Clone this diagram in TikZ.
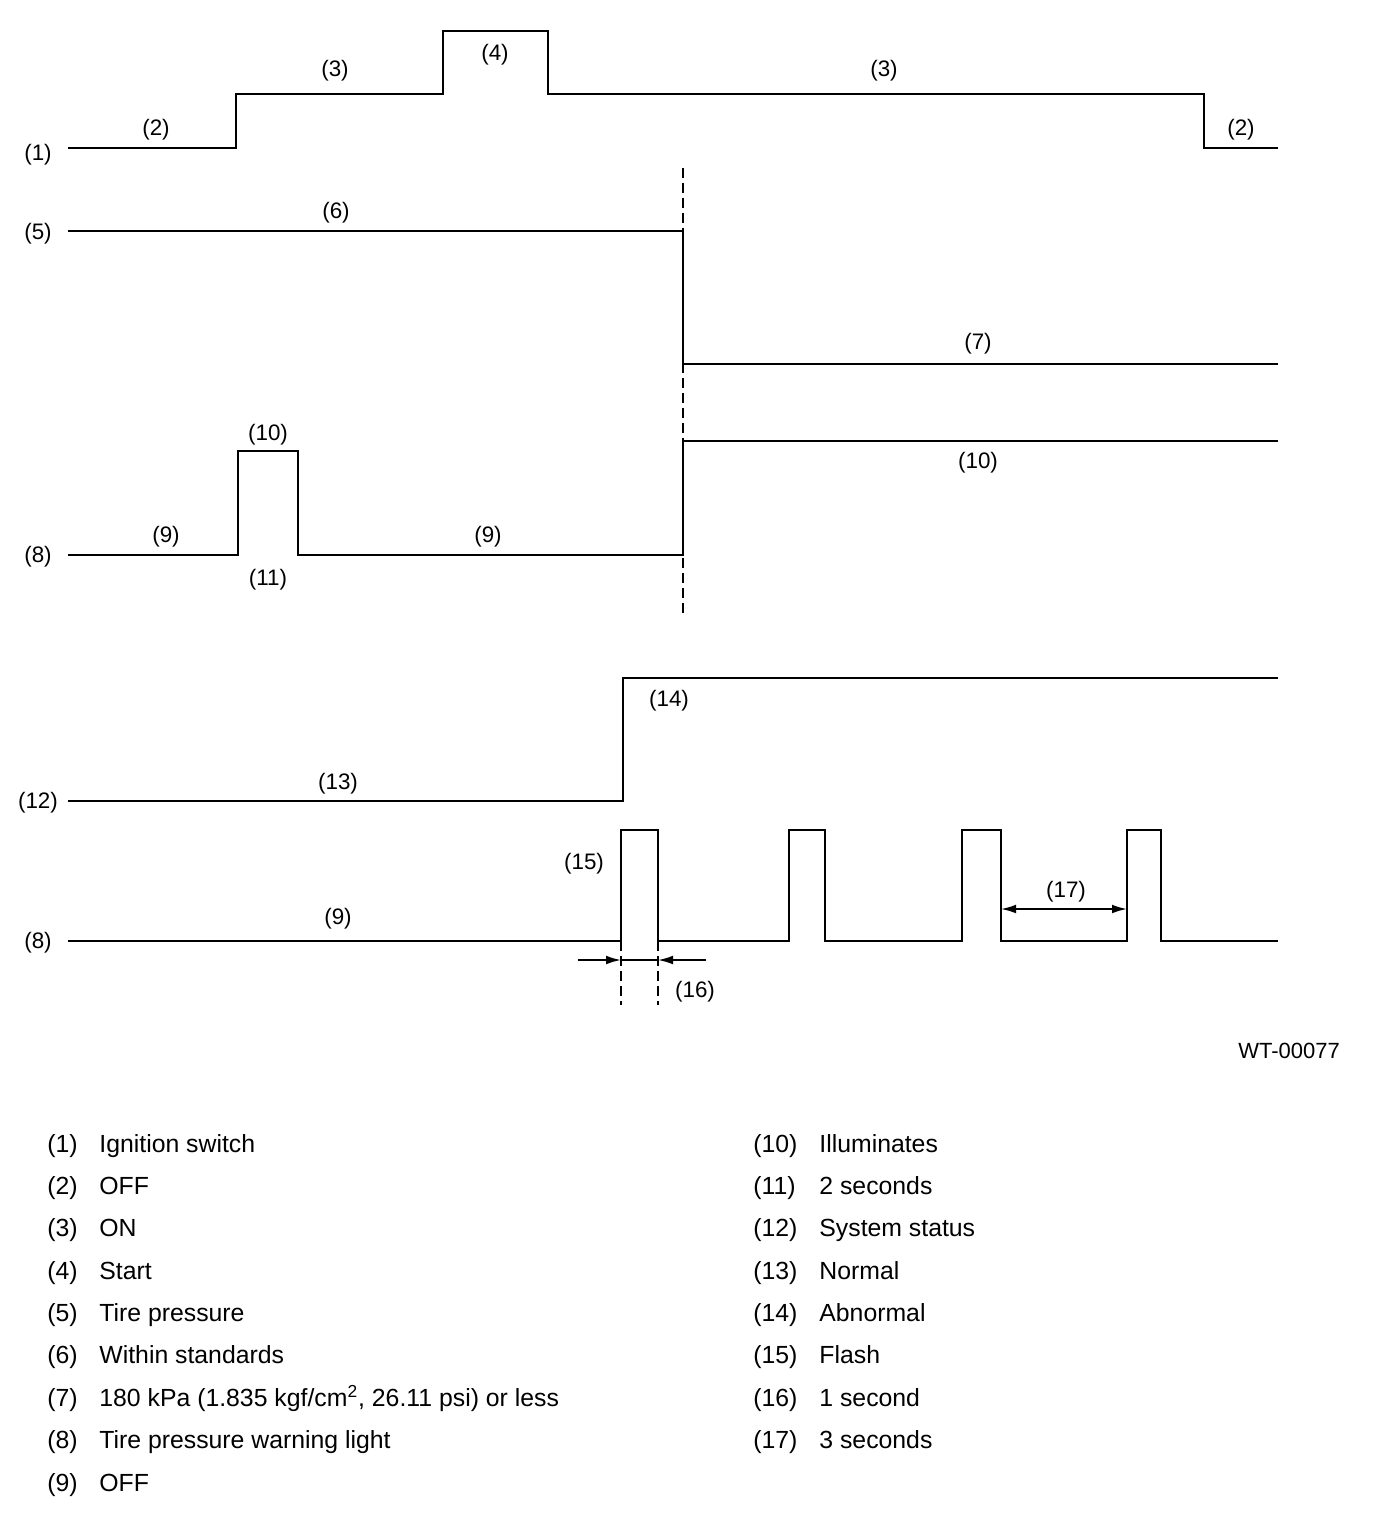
\documentclass[tikz,border=0pt]{standalone}
\usepackage{fontspec}
\setmainfont{Liberation Sans}
\usetikzlibrary{arrows.meta}

\begin{document}
\begin{tikzpicture}[
  x=0.5pt, y=-0.5pt,
  line cap=butt,
  line join=miter,
  signal/.style={line width=1.3pt},
  thinsignal/.style={line width=0.7pt},
  cutline/.style={line width=1.1pt, dash pattern=on 5pt off 2.5pt},
  dimline/.style={line width=0.9pt},
  dimarrow/.style={-{Latex[length=7.5pt,width=4.4pt]}},
  lbl/.style={inner sep=0pt, yshift=-1.5pt, font=\fontsize{11.2}{13}\selectfont},
  legend/.style={anchor=base west, inner sep=0pt, font=\fontsize{12.4}{15}\selectfont}
]
  \useasboundingbox (0,0) rectangle (1376,1514);

  % Зажигание
  \coordinate (ig0) at (68,148);
  \coordinate (ig1) at (236,148);
  \coordinate (ig2) at (236,94);
  \coordinate (ig3) at (443,94);
  \coordinate (ig4) at (443,31);
  \coordinate (ig5) at (548,31);
  \coordinate (ig6) at (548,94);
  \coordinate (ig7) at (1204,94);
  \coordinate (ig8) at (1204,148);
  \coordinate (ig9) at (1278,148);
  \draw[signal] (ig0)--(ig1)--(ig2)--(ig3)--(ig4)--(ig5)--(ig6)--(ig7)--(ig8)--(ig9);

  % Давление в шине
  \coordinate (tp0) at (68,231);
  \coordinate (tp1) at (683,231);
  \coordinate (tp2) at (683,364);
  \coordinate (tp3) at (1278,364);
  \draw[signal] (tp0)--(tp1)--(tp2);
  \draw[thinsignal] (tp2)--(tp3);

  % Лампа (верхняя диаграмма)
  \coordinate (wl0) at (68,555);
  \coordinate (wl1) at (238,555);
  \coordinate (wl2) at (238,451);
  \coordinate (wl3) at (298,451);
  \coordinate (wl4) at (298,555);
  \coordinate (wl5) at (683,555);
  \coordinate (wl6) at (683,441);
  \coordinate (wl7) at (1278,441);
  \draw[signal] (wl0)--(wl1)--(wl2)--(wl3)--(wl4)--(wl5)--(wl6)--(wl7);

  % Вертикальная штриховая
  \coordinate (cutT) at (683,168);
  \coordinate (cutB) at (683,616);
  \draw[cutline] (cutT)--(cutB);

  % Состояние системы
  \coordinate (ss0) at (68,801);
  \coordinate (ss1) at (623,801);
  \coordinate (ss2) at (623,678);
  \coordinate (ss3) at (1278,678);
  \draw[signal] (ss0)--(ss1)--(ss2)--(ss3);

  % Лампа (мигание)
  \coordinate (fl0) at (68,941);
  \coordinate (fl9) at (1278,941);
  \draw[signal] (fl0)
    foreach \a/\b in {621/658, 789/825, 962/1001, 1127/1161}
      { -- (\a,941) -- (\a,830) -- (\b,830) -- (\b,941) }
    -- (fl9);

  % Размер (16)
  \coordinate (d1a) at (621,941);
  \coordinate (d1b) at (621,1005);
  \coordinate (d2a) at (658,941);
  \coordinate (d2b) at (658,1005);
  \draw[dimline, dash pattern=on 5pt off 2.5pt] (d1a)--(d1b);
  \draw[dimline, dash pattern=on 5pt off 2.5pt] (d2a)--(d2b);
  \coordinate (a1s) at (578,960);
  \coordinate (a1e) at (621,960);
  \coordinate (a2s) at (706,960);
  \coordinate (a2e) at (658,960);
  \draw[dimline, dimarrow] (a1s)--(a1e);
  \draw[dimline, dimarrow] (a2s)--(a2e);
  \draw[dimline] (a1e)--(a2e);

  % Размер (17)
  \coordinate (p3L) at (1001,909);
  \coordinate (p3R) at (1127,909);
  \draw[dimline, {Latex[length=7.5pt,width=4.4pt]}-{Latex[length=7.5pt,width=4.4pt]}] (p3L)--(p3R);

  % Подписи на диаграмме
  \node[lbl] (n1)   at (38,152)   {(1)};
  \node[lbl] (n2a)  at (156,127)  {(2)};
  \node[lbl] (n3a)  at (335,68)   {(3)};
  \node[lbl] (n4)   at (495,52)   {(4)};
  \node[lbl] (n3b)  at (884,68)   {(3)};
  \node[lbl] (n2b)  at (1241,127) {(2)};
  \node[lbl] (n5)   at (38,231)   {(5)};
  \node[lbl] (n6)   at (336,210)  {(6)};
  \node[lbl] (n7)   at (978,341)  {(7)};
  \node[lbl] (n8a)  at (38,554)   {(8)};
  \node[lbl] (n9a)  at (166,534)  {(9)};
  \node[lbl] (n10a) at (268,432)  {(10)};
  \node[lbl] (n11)  at (268,577)  {(11)};
  \node[lbl] (n9b)  at (488,534)  {(9)};
  \node[lbl] (n10b) at (978,460)  {(10)};
  \node[lbl] (n12)  at (38,800)   {(12)};
  \node[lbl] (n13)  at (338,781)  {(13)};
  \node[lbl] (n14)  at (669,698)  {(14)};
  \node[lbl] (n8b)  at (38,940)   {(8)};
  \node[lbl] (n9c)  at (338,916)  {(9)};
  \node[lbl] (n15)  at (584,861)  {(15)};
  \node[lbl] (n16)  at (695,989)  {(16)};
  \node[lbl] (n17)  at (1066,889) {(17)};
  \node[inner sep=0pt, font=\fontsize{11}{13}\selectfont] (code) at (1289,1051) {WT-00077};

  % Легенда
  \foreach \i/\t in {1/{Ignition switch}, 2/{OFF}, 3/{ON}, 4/{Start},
      5/{Tire pressure}, 6/{Within standards},
      7/{180 kPa (1.835 kgf/cm\textsuperscript{2}, 26.11 psi) or less},
      8/{Tire pressure warning light}, 9/{OFF}}
  {
    \node[legend] (leg\i) at (47,{1152+(\i-1)*42.375}) {(\i)};
    \node[legend] (legt\i) at (99,{1152+(\i-1)*42.375}) {\t};
  }
  \foreach \i/\t in {10/{Illuminates}, 11/{2 seconds}, 12/{System status},
      13/{Normal}, 14/{Abnormal}, 15/{Flash}, 16/{1 second}, 17/{3 seconds}}
  {
    \node[legend] (leg\i) at (753,{1152+(\i-10)*42.375}) {(\i)};
    \node[legend] (legt\i) at (819,{1152+(\i-10)*42.375}) {\t};
  }
\end{tikzpicture}
\end{document}
